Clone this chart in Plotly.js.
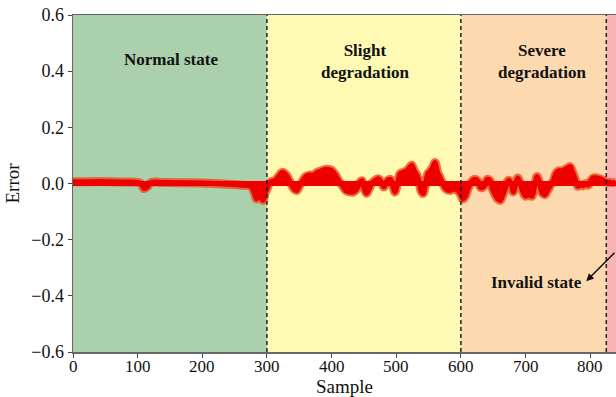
<!DOCTYPE html>
<html>
<head>
<meta charset="utf-8">
<script src="https://cdn.plot.ly/plotly-3.0.1.min.js"></script>
<style>html,body{margin:0;padding:0;background:#fff;}#chart{width:616px;height:397px;}</style>
</head>
<body>
<div id="chart"></div>
<script>
// Sample index (x) and reconstruction error (y)
const sampleX = [0,20,40,60,80,100,105,110,115,120,140,160,180,200,220,240,260,275,280,284,288,291,294,297,300,
  305,312,318,324,330,337,342,346,350,354,360,366,372,378,384,390,396,401,406,411,416,422,428,434,439,444,447,450,454,458,462,467,472,477,481,486,491,495,498,502,506,511,516,520,524,528,532,536,539,542,545,549,553,557,560,564,568,572,577,583,589,595,600,
  603,607,611,616,621,626,631,636,641,645,649,653,657,661,665,669,674,678,681,684,688,692,696,700,705,710,714,718,722,726,730,734,739,743,747,751,756,761,765,769,773,777,781,785,789,793,797,801,805,810,815,820,825,830,839];
const errorY = [0.006,0.006,0.007,0.006,0.005,0.004,0,-0.018,-0.012,0.003,0.004,0.003,0.003,0.002,0.0,-0.003,-0.006,-0.01,-0.03,-0.055,-0.035,-0.05,-0.06,-0.035,-0.02,
  0.005,0.01,0.025,0.04,0.03,0.0,-0.02,-0.025,-0.01,0.005,0.025,0.03,0.03,0.04,0.045,0.05,0.05,0.045,0.03,0.01,-0.005,-0.025,-0.03,-0.03,-0.02,0.005,0.01,-0.015,-0.035,-0.02,0.0,0.01,0.017,0.005,-0.012,0.01,0.015,-0.01,-0.03,0.0,0.035,0.04,0.045,0.055,0.065,0.045,0.03,0.0,-0.03,-0.035,-0.005,0.035,0.045,0.06,0.075,0.04,0.02,0.0,-0.02,-0.025,-0.02,-0.025,-0.04,
  -0.055,-0.045,-0.02,0.005,0.015,0.01,-0.015,-0.01,0.015,0.01,-0.02,-0.04,-0.055,-0.06,-0.04,-0.015,0.012,0.0,-0.03,-0.01,0.02,0.0,-0.03,-0.045,-0.04,-0.045,-0.01,0.025,0.0,-0.035,-0.04,-0.025,-0.005,0.01,0.035,0.045,0.045,0.05,0.055,0.06,0.04,0.015,-0.01,-0.005,-0.008,0.0,-0.006,0.01,0.02,0.02,0.017,0.012,0.006,0.004,0.003];
const baselineX = [0, 840];
const baselineY = [0, 0];

// Regions
const regionStart = [0, 300, 600, 825];
const regionEnd = [300, 600, 825, 840];
const regionColors = ['#abd0ae', '#fef9b3', '#fdd9b0', '#f9b3b3'];
const boundaries = [300, 600, 825];
const yTicks = [-0.6, -0.4, -0.2, 0.0, 0.2, 0.4, 0.6];
const xTicks = [0, 100, 200, 300, 400, 500, 600, 700, 800];

const serif = 'Liberation Serif';

const shapes = [];
regionStart.forEach((s, i) => {
  shapes.push({type:'rect', xref:'x', yref:'paper', x0:s, x1:regionEnd[i], y0:0, y1:1,
    fillcolor:regionColors[i], line:{width:0}, layer:'below'});
});
boundaries.forEach(b => {
  shapes.push({type:'line', xref:'x', yref:'paper', x0:b, x1:b, y0:0, y1:1,
    line:{color:'#222', width:1.5, dash:'4px,3px'}, layer:'above'});
});

const traces = [
  {x: sampleX, y: errorY, mode:'lines', line:{color:'rgba(235,80,30,0.8)', width:9, shape:'spline'}, hoverinfo:'skip'},
  {x: baselineX, y: baselineY, mode:'lines', line:{color:'#ee0000', width:5}, hoverinfo:'skip'},
  {x: sampleX, y: errorY, mode:'lines', fill:'tozeroy', fillcolor:'#ee0000', line:{color:'#ee0000', width:5, shape:'spline'}}
];

const annFont = {family: serif, size: 17, color:'#111'};
const tickFont = {family: serif, size: 18, color:'#111'};
const xTickFont = {family: serif, size: 17, color:'#111'};

// x tick labels placed just under the axis (tight like the reference)
const xTickAnns = xTicks.map(v => ({x:v, y:0, xref:'x', yref:'paper', text:String(v), showarrow:false,
  xanchor:'center', yanchor:'middle', yshift:-14, borderpad:0, font:xTickFont}));

const layout = {
  width: 616, height: 397,
  margin: {l:73, r:0, t:15, b:45},
  font: {family: serif, size: 17, color:'#111'},
  paper_bgcolor:'#fff', plot_bgcolor:'#fff',
  showlegend:false,
  xaxis: {range:[0, 840], tickvals:xTicks, showticklabels:false, ticks:'outside', ticklen:4, tickcolor:'#444',
    showgrid:false, zeroline:false, showline:true, linecolor:'#666', linewidth:1.5, mirror:true,
    title:{text:'Sample', font:{family:serif, size:19, color:'#111'}, standoff:24}},
  yaxis: {range:[-0.6, 0.6], tickvals:yTicks, ticktext:yTicks.map(v => (v < 0 ? '\u2212' : '') + Math.abs(v).toFixed(1)), ticks:'outside', ticklen:4, tickcolor:'#444',
    showgrid:false, zeroline:false, showline:true, linecolor:'#666', linewidth:1.5, mirror:false,
    tickfont:tickFont,
    title:{text:'Error', font:{family:serif, size:19, color:'#111'}, standoff:6}},
  shapes: shapes,
  annotations: [
    {x:152, y:0.44, xref:'x', yref:'y', text:'<b>Normal state</b>', showarrow:false, font:annFont},
    {x:451, y:0.436, xref:'x', yref:'y', text:'<b>Slight<br>degradation</b>', showarrow:false, font:annFont},
    {x:726, y:0.436, xref:'x', yref:'y', text:'<b>Severe<br>degradation</b>', showarrow:false, font:annFont},
    {x:717, y:-0.354, xref:'x', yref:'y', text:'<b>Invalid state</b>', showarrow:false, font:annFont},
    {x:794, y:-0.348, xref:'x', yref:'y', text:'', showarrow:true, arrowhead:2, arrowsize:1, arrowwidth:1.5,
      arrowcolor:'#111', ax:50, ay:-30, standoff:0}
  ].concat(xTickAnns)
};

Plotly.newPlot('chart', traces, layout, {displayModeBar:false, staticPlot:true});
</script>
</body>
</html>
